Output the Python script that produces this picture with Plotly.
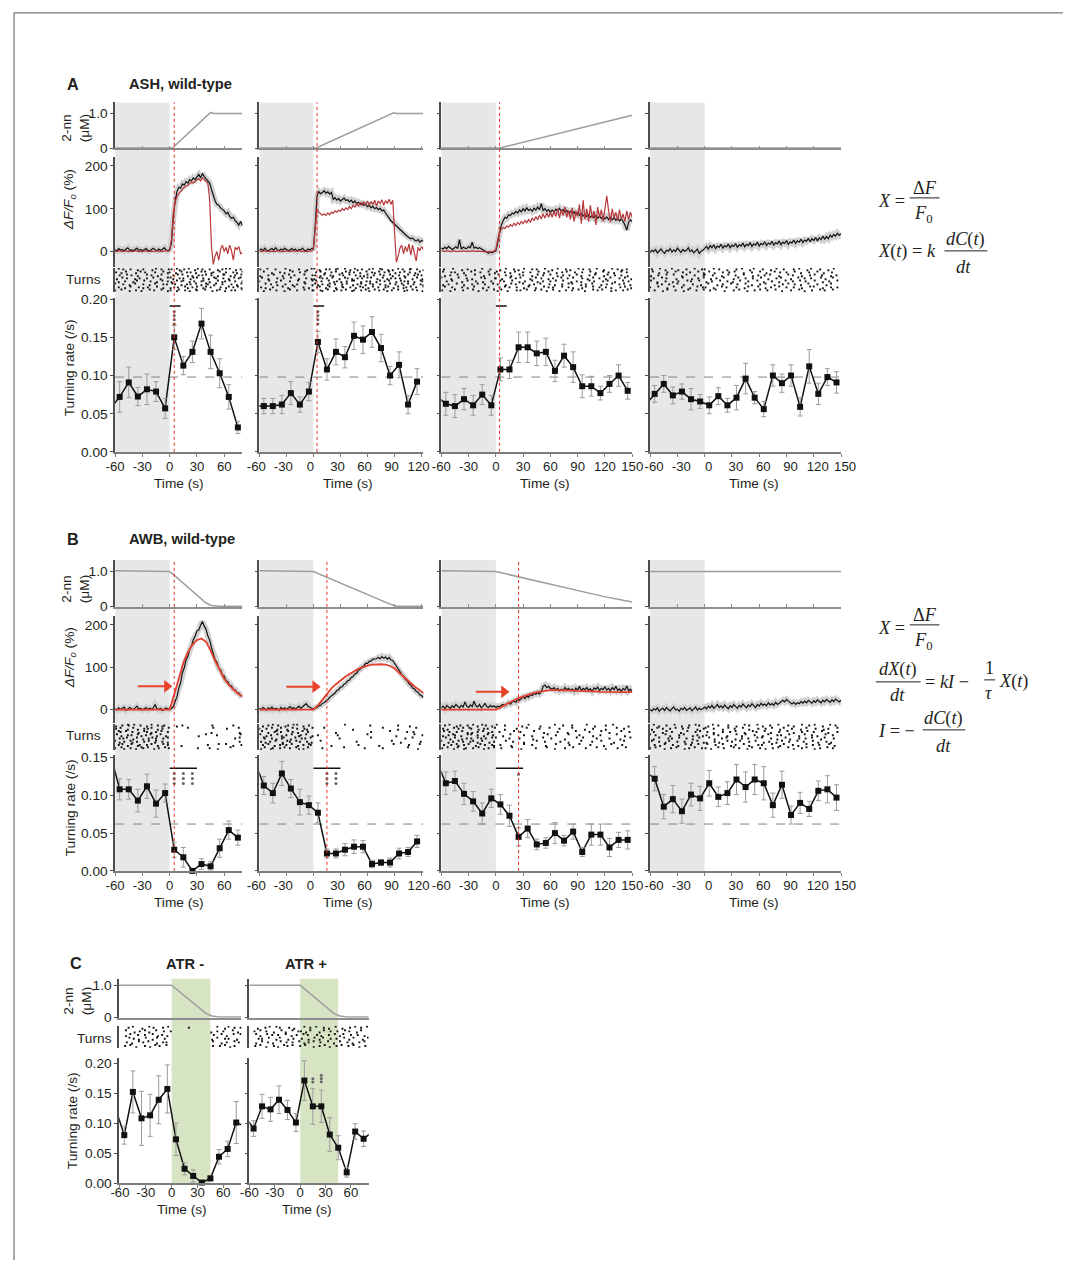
import numpy as np
import plotly.graph_objects as go

W, H = 1078, 1268
# measured mapping between page pixels and the photographed picture
# (picture = A * page + B); layout positions below are given in picture pixels
AX_, BX_ = 0.9795, 10.3
AY_, BY_ = 0.989, 5.1
FS = 1.015  # font compensation for the slight down-scaling

# ------------------------------------------------------------------ data
X_TICKS_AB = [[-60, -30, 0, 30, 60], [-60, -30, 0, 30, 60, 90, 120],
              [-60, -30, 0, 30, 60, 90, 120, 150], [-60, -30, 0, 30, 60, 90, 120, 150]]
X_RANGE_AB = [[-60, 80], [-60, 122], [-60, 150], [-60, 150]]
X_TICKS_C = [[-60, -30, 0, 30, 60], [-60, -30, 0, 30, 60]]
X_RANGE_C = [[-61, 81], [-60, 81]]

# 2-nonanone concentration (uM)
CONC_A_T = [[-60, 3, 45, 48, 80], [-60, 3, 89, 92, 122], [-60, 4, 150], [-60, 150]]
CONC_A_C = [[0, 0, 1.03, 1.0, 1.0], [0, 0, 1.02, 1.0, 1.0], [0, 0, 0.95], [0, 0]]
CONC_B_T = [[-60, -1, 2, 40, 46, 55, 80], [-60, 0, 85, 92, 122], [-60, 0, 118, 150], [-60, 150]]
CONC_B_C = [[1.02, 1.0, 0.96, 0.1, 0.03, 0.01, 0.01], [1.02, 1.0, 0.07, 0.01, 0.01], [1.02, 1.0, 0.29, 0.13], [1.0, 1.0]]
CONC_C_T = [[-61, 0, 40, 47, 55, 81], [-60, 0, 40, 47, 55, 81]]
CONC_C_C = [[1.0, 1.0, 0.12, 0.05, 0.02, 0.02], [1.0, 1.0, 0.12, 0.05, 0.02, 0.02]]

# dF/F0 (%) sampled every 2 s from -60 s (black = mean, red = model)
A1_BLACK = [4, 2, 7, 3, 5, 1, 6, 9, 3, 4, 2, 6, 8, 3, 5, 2, 4, 7, 3, 1, 5, 8, 4, 2, 6, 3, 5, 9, 4, 2,
            5, 20, 80, 118, 140, 150, 148, 158, 155, 163, 160, 168, 165, 172, 168, 175, 180, 172, 182, 175,
            170, 165, 160, 145, 128, 118, 110, 108, 102, 98, 95, 88, 92, 82, 78, 80, 72, 68, 62, 70, 60]
A1_RED = [1, 0, 2, 1, 0, 1, 2, 0, 1, 1, 0, 2, 1, 0, 1, 0, 1, 2, 0, 1, 1, 0, 1, 2, 0, 1, 0, 1, 2, 1,
          2, 30, 90, 115, 128, 135, 140, 145, 150, 152, 155, 158, 162, 160, 165, 168, 170, 165, 172, 168,
          165, 160, 120, 10, -30, -10, 0, -20, 5, 15, 0, 10, -5, 15, 2, -20, 10, 5, 12, -5, -3]
A2_BLACK = [3, 6, 2, 8, 4, 1, 5, 7, 3, 9, 4, 2, 6, 3, 8, 5, 2, 4, 7, 3, 6, 1, 5, 4, 8, 3, 2, 6, 4, 7,
            8, 60, 130, 140, 135, 138, 142, 136, 140, 134, 138, 122, 126, 120, 124, 118, 122, 125, 119, 121,
            116, 120, 114, 118, 112, 115, 110, 113, 108, 110, 105, 108, 102, 106, 100, 103, 98, 101, 95, 97,
            90, 85, 78, 72, 68, 62, 58, 55, 50, 47, 42, 40, 36, 33, 30, 32, 27, 25, 28, 22, 26, 24]
A2_RED = [1, 0, 1, 2, 0, 1, 0, 1, 1, 0, 2, 1, 0, 1, 0, 2, 1, 0, 1, 1, 0, 1, 2, 0, 1, 0, 1, 0, 2, 1,
          5, 60, 100, 92, 88, 85, 88, 84, 90, 86, 92, 89, 95, 92, 97, 94, 100, 96, 102, 98,
          105, 100, 108, 104, 112, 106, 114, 108, 116, 110, 118, 108, 117, 110, 120, 106, 118, 112, 121, 108,
          119, 112, 122, 110, 120, 60, -25, -10, 8, 15, -5, 12, 0, 18, -8, 15, -2, -22, 10, 2, 12, 5]
A3_BLACK = [8, 6, 10, 7, 12, 9, 5, 8, 11, 7, 28, 6, 10, 8, 7, 12, 9, 22, 8, 10, 7, 9, 6, 3, 0, -2, -4, -1, -3, 0,
            2, 20, 45, 62, 72, 80, 78, 86, 84, 90, 88, 94, 90, 97, 93, 100, 95, 102, 96, 99,
            94, 101, 97, 104, 98, 112, 96, 100, 94, 98, 92, 97, 93, 99, 95, 101, 94, 98, 92, 96,
            90, 94, 88, 93, 86, 91, 85, 89, 83, 88, 82, 86, 80, 85, 79, 84, 78, 83, 77, 82,
            76, 81, 75, 80, 74, 79, 73, 78, 72, 76, 70, 62, 50, 68, 74, 70]
A3_RED = [2, 1, 0, 2, 1, 0, 1, 2, 0, 1, 1, 0, 2, 1, 0, 1, 0, 2, 1, 0, 1, 1, 0, 1, 0, -1, 0, -1, 0, 1,
          5, 30, 48, 52, 56, 54, 60, 57, 63, 59, 66, 61, 68, 63, 70, 65, 73, 67, 75, 69,
          78, 72, 82, 74, 85, 76, 88, 78, 90, 80, 92, 80, 95, 82, 100, 78, 98, 84, 105, 80,
          96, 75, 102, 70, 95, 82, 110, 65, 120, 75, 100, 70, 108, 78, 95, 62, 104, 80, 98, 70,
          102, 130, 96, 68, 100, 78, 92, 72, 98, 75, 88, 70, 95, 74, 92, 80]
A4_BLACK = [-2, 3, 0, 5, -3, 2, 6, 0, -4, 3, 1, 7, -1, 4, 0, 8, 2, -2, 5, 1, 3, 9, 0, 4, -3, 2, 6, -5, 1, 3,
            8, 12, 6, 14, 9, 16, 7, 13, 10, 17, 8, 14, 11, 18, 9, 15, 12, 19, 10, 16,
            13, 20, 11, 17, 14, 21, 12, 18, 15, 22, 13, 19, 16, 23, 14, 20, 17, 24, 15, 21,
            18, 25, 16, 22, 19, 26, 17, 23, 20, 27, 19, 25, 22, 29, 21, 27, 24, 31, 23, 30,
            26, 33, 25, 32, 28, 36, 29, 35, 30, 38, 34, 40, 36, 43, 38, 42]
B1_BLACK = [2, -1, 4, 0, 3, 6, -2, 1, 5, 2, 0, 4, 8, 1, 3, -1, 2, 5, 0, 3, 1, 4, 12, 2, 0, 3, -2, 1, 4, 2,
            0, 3, 7, 19, 30, 50, 63, 87, 98, 117, 126, 142, 150, 165, 173, 186, 188, 199, 208, 197,
            190, 174, 164, 146, 134, 118, 112, 98, 94, 82, 79, 68, 66, 57, 56, 48, 47, 40, 39, 33, 34]
B2_BLACK = [3, 0, 5, 2, -1, 4, 1, 6, 0, 3, 2, -2, 5, 1, 4, 0, 3, 7, 2, 5, 1, 4, 8, 3, 6, 10, 14, 8, 5, 3,
            2, 4, 5, 9, 10, 15, 16, 21, 23, 29, 32, 37, 39, 45, 47, 53, 54, 60, 62, 68,
            70, 76, 78, 84, 86, 93, 95, 101, 103, 109, 109, 114, 115, 119, 119, 120, 123, 120, 125, 121,
            124, 119, 123, 117, 116, 109, 105, 96, 91, 83, 79, 71, 68, 61, 58, 51, 49, 43, 41, 35, 33, 28]
B3_BLACK = [4, 8, 2, 10, 6, 3, 9, 5, 12, 7, 4, 10, 6, 18, 8, 5, 11, 7, 20, 9, 6, 12, 4, 8, 15, 7, 5, 10, 6, 9,
            5, 8, 6, 10, 12, 9, 14, 16, 13, 18, 20, 17, 24, 22, 27, 30, 26, 32, 29, 35,
            33, 38, 36, 40, 37, 42, 55, 58, 52, 55, 50, 48, 52, 46, 50, 44, 48, 45, 52, 47,
            50, 45, 49, 43, 51, 46, 55, 44, 50, 47, 52, 46, 49, 43, 51, 48, 53, 45, 50, 47,
            54, 46, 50, 44, 52, 47, 55, 45, 49, 43, 50, 46, 56, 44, 48, 42]
B4_BLACK = [0, -3, 2, -1, 4, -4, 1, 3, -2, 5, 0, -3, 2, 6, -1, 1, -4, 3, 0, 5, -2, 2, 4, -3, 1, 6, -1, 3, 0, 2,
            6, 2, 8, 4, 10, 3, 7, 12, 5, 9, 4, 11, 6, 2, 9, 5, 12, 7, 3, 10,
            6, 13, 8, 4, 11, 7, 14, 9, 5, 12, 8, 15, 10, 13, 9, 16, 11, 14, 10, 17,
            12, 15, 19, 22, 18, 24, 20, 16, 13, 17, 12, 16, 14, 19, 15, 20, 16, 22, 18, 15,
            21, 17, 23, 19, 16, 22, 18, 24, 20, 17, 23, 19, 25, 21, 18, 22]
# B model fits, sampled every 5 s from -60 s
B1_RED = [0] * 13 + [36, 75, 110, 135, 153, 164, 168, 160, 140, 115, 92, 73, 58, 47, 38, 31]
B2_RED = [0] * 13 + [10, 24, 38, 50, 60, 69, 77, 84, 91, 96, 100, 104, 106, 107, 107, 106, 103, 97, 88,
                     78, 68, 58, 50, 42, 35]
B3_RED = [0] * 13 + [5, 11, 17, 22, 27, 31, 35, 38, 41, 43, 45, 46, 46, 46, 46, 45, 45, 44, 44, 43,
                     43, 43, 42, 42, 42, 42, 42, 41, 41, 41]

# turning rate (/s): 10-s bins centred at -65, -55, ...
TR_T_AB = [list(range(-65, 80, 10)), list(range(-65, 120, 10)),
           list(range(-65, 150, 10)), list(range(-65, 150, 10))]
TR_T_C = [list(range(-65, 90, 10)), list(range(-65, 90, 10))]
TR_A = [[0.057, 0.072, 0.091, 0.0725, 0.082, 0.079, 0.057, 0.150, 0.113, 0.131, 0.168, 0.131, 0.103, 0.072, 0.032],
        [0.060, 0.060, 0.060, 0.062, 0.077, 0.062, 0.079, 0.144, 0.108, 0.131, 0.124, 0.152, 0.147, 0.157, 0.136,
         0.100, 0.114, 0.062, 0.092],
        [0.073, 0.063, 0.060, 0.069, 0.061, 0.075, 0.061, 0.108, 0.108, 0.137, 0.137, 0.129, 0.131, 0.106, 0.126,
         0.111, 0.086, 0.086, 0.077, 0.089, 0.100, 0.080],
        [0.062, 0.076, 0.089, 0.074, 0.079, 0.069, 0.066, 0.061, 0.073, 0.061, 0.071, 0.096, 0.071, 0.056, 0.100,
         0.090, 0.100, 0.059, 0.112, 0.076, 0.098, 0.091]]
TR_A_ERR = [[0, 0.02, 0.02, 0.012, 0.02, 0.013, 0.013, 0.016, 0.012, 0.014, 0.02, 0.022, 0.019, 0.016, 0.008],
            [0, 0.01, 0.01, 0.012, 0.015, 0.01, 0.012, 0.014, 0.014, 0.017, 0.014, 0.018, 0.018, 0.02, 0.018,
             0.012, 0.017, 0.012, 0.017],
            [0, 0.015, 0.015, 0.014, 0.013, 0.013, 0.013, 0.015, 0.012, 0.02, 0.02, 0.016, 0.018, 0.014, 0.015,
             0.02, 0.015, 0.013, 0.009, 0.011, 0.014, 0.011],
            [0, 0.011, 0.011, 0.011, 0.01, 0.014, 0.009, 0.011, 0.011, 0.009, 0.016, 0.02, 0.008, 0.01, 0.014,
             0.012, 0.014, 0.012, 0.022, 0.014, 0.011, 0.014]]
TR_B = [[0.154, 0.108, 0.108, 0.093, 0.112, 0.089, 0.103, 0.028, 0.018, 0.000, 0.009, 0.006, 0.030, 0.054, 0.044],
        [0.145, 0.113, 0.103, 0.129, 0.109, 0.091, 0.087, 0.077, 0.023, 0.023, 0.028, 0.032, 0.032, 0.009, 0.011,
         0.011, 0.023, 0.025, 0.039],
        [0.145, 0.116, 0.119, 0.102, 0.092, 0.076, 0.096, 0.088, 0.073, 0.045, 0.056, 0.035, 0.037, 0.050, 0.040,
         0.052, 0.025, 0.048, 0.048, 0.031, 0.041, 0.041],
        [0.132, 0.122, 0.085, 0.095, 0.079, 0.101, 0.096, 0.116, 0.098, 0.103, 0.121, 0.111, 0.121, 0.116, 0.087,
         0.114, 0.074, 0.090, 0.082, 0.106, 0.108, 0.097]]
TR_B_ERR = [[0, 0.014, 0.013, 0.015, 0.016, 0.018, 0.012, 0.01, 0.013, 0.003, 0.007, 0.006, 0.012, 0.012, 0.01],
            [0, 0.012, 0.013, 0.016, 0.012, 0.017, 0.012, 0.013, 0.006, 0.006, 0.008, 0.009, 0.008, 0.005, 0.004,
             0.006, 0.007, 0.006, 0.008],
            [0, 0.015, 0.013, 0.014, 0.013, 0.014, 0.012, 0.013, 0.014, 0.012, 0.012, 0.007, 0.007, 0.014, 0.007,
             0.01, 0.006, 0.014, 0.014, 0.012, 0.01, 0.012],
            [0, 0.016, 0.016, 0.018, 0.016, 0.015, 0.016, 0.017, 0.013, 0.015, 0.02, 0.02, 0.02, 0.022, 0.016,
             0.018, 0.012, 0.014, 0.01, 0.013, 0.018, 0.017]]
TR_C = [[0.124, 0.080, 0.152, 0.108, 0.113, 0.139, 0.157, 0.073, 0.024, 0.012, 0.001, 0.008, 0.044, 0.057, 0.101, 0.095],
        [0.111, 0.091, 0.128, 0.123, 0.139, 0.122, 0.101, 0.171, 0.128, 0.128, 0.081, 0.059, 0.018, 0.086, 0.074, 0.085]]
TR_C_ERR = [[0, 0.015, 0.035, 0.045, 0.035, 0.04, 0.04, 0.027, 0.01, 0.01, 0.002, 0.004, 0.012, 0.013, 0.035, 0],
            [0, 0.013, 0.02, 0.02, 0.023, 0.016, 0.015, 0.033, 0.03, 0.027, 0.028, 0.02, 0.008, 0.013, 0.013, 0]]
BASELINE_A = 0.098
BASELINE_B = 0.062
STIM_A = [5, 4, 4, None]
STIM_B = [5, 15, 25, None]
SIG_BAR_A = [(0, 12, 0.191), (0, 12, 0.191), (0, 12, 0.191), None]
SIG_BAR_B = [(0, 30, 0.136), (0, 30, 0.136), (0, 30, 0.136), None]
SIG_STAR_A = [[(5, 4, 0.184)], [(5, 4, 0.184)], [], []]
SIG_STAR_B = [[(5, 3, 0.129), (15, 3, 0.129), (25, 3, 0.129)], [(15, 3, 0.129), (25, 3, 0.129)], [(25, 1, 0.128)], []]
SIG_STAR_C = [[], [(5, 1, 0.213), (15, 2, 0.174), (25, 3, 0.18)]]
ARROWS_B = [(-35, -3, 55), (-30, 2, 54), (-22, 9, 42)]
LIGHT_C = (0, 45)

# turn rasters: one char per 3-s bin, digit = dot (offset code), '.' = none
TURNS_A_PRE = [
    ["3.7..1.5.2..8.4..6.1", ".4.2.8..5.1.3..7.2..", "6..3.1.7..4.2.8..5.3", ".1.5..2.6.8..3.1.7.4",
     "2.8.4..1.3.5..6.2..7", ".5..7.3.1..8.4.2.6..", "4.1.6..2.7.3..5..8.1", ".7.3.5..1.4..2.6.3.5"],
    [".2..6.4..1.7..3.8..5", "5.1..3..8.2..6..4.1.", "..7.4.2..5..1.3..6.2", "3..8..1.6..4..7.2..8",
     ".6.1..5..3.8..2..4.1", "1..4.7..2..6.3..8..5", ".8..2..5.1..7..3.6..", "4..6..3..8.1..5..2.7"],
    ["4..1.6..3..8.2..5..7", ".7..3..5.2..6..1.4..", "2.5..8..1..4.7..3..6", "..3.6..2.8..5..1..4.",
     "6..2..7..4.1..8.3..5", ".1.4..6..3..7..2.8..", "8..5.3..1..6..4..7.2", ".3..7..2.5..1..6..3."],
    [".5..2.7..4..1.6..3.8", "3..6..1.8..5..2..7.4", "..8.4..3..6.1..5..2.", "7.2..5..1.4..8.3..6.",
     ".4..7.3..2..6..1.5.8", "1..3..6.8..2.7..4..5", ".6.1..4..7..3.5..8.2", "5..8.2..6.1..4..7..3"]]
TURNS_A_POST = [
    ["4.27.5.1.83..6.2.47.1.5.3.8", "15.3.82.4.6.17.3..5.28.4.61", ".63.1.45.8.2.73.16.4..5.2.7",
     "2.8.46.1.3.57.2..8.14.6.3.5", "71.5.3.28.6.4.1.73.5.2.8.46", ".4.68.2.1.5.37.4.2.86.1.3.7",
     "3.1.7.45.2.8.6.13.7.5..42.8", "5.82.4.6.17.3.5..2.48.6.1.3"],
    ["3.51.7.28.4.6.13.5.72.8.4.61.3.7.25.8.4.1", ".47.2.6.1.83.5.2.74.1.6.3.58.2.7.14.6.3.8",
     "82.4.16.3.5.7.2.48.1.63.5.2.7.4.81.6.3.52", ".6.3.8.25.1.4.76.2.5.3.18.4.6.2.75.3.1.84",
     "1.74.3.6.2.85.1.4.3.67.2.8.15.4.3.6.2.7.1", "5.2.6.41.8.3.7.5.12.6.4.8.3.71.5.2.6.48.3",
     ".38.1.5.7.2.64.3.1.8.52.7.4.6.1.38.5.2.7.", "7.1.5.3.46.8.2.71.3.5.6.84.2.1.7.3.56.4.2"],
    ["2.6.1..5.3.7..4.8.2..6.1.5..3.7.2..8.4.6..1.3.5.7.", ".4.7.3.5..1.6.2..8.4.3..7.5.1..2.6.8..3.4.1..5.7.2",
     "5..2.8.4..6.1.3.7..5.2..4.8.6..1.3.7..2.5.8..4.6.1", ".8.3..6.2.5..7.1.4..3.6.8..2.5.1..7.3..4.6.2..8.5.",
     "3.1..7.4.6..2.8.5..1.3..6.4.7..5.2.8..3.1.6..4.7.2", ".6.5.2..8.3..1.7.4..6.2.5..3.8.1..4.7..2.6.5..3.1.",
     "7..4.1.6..3.5..8.2.7..1.4.6..3.5..8.2..7.4.1..6.3.", ".2.8..5.1.7..4.3..6.2.8..5.1..7.3.4..6.2..8.5.1.3."],
    ["..3.6..1..5.8..2..4.7..3..6.1..5..8.2..4..7.3..6.", "4..1..7.3..5..2.6..8..1.4..7..3.5..2..8.6..1..4.5",
     ".7..2.5..8..3..6.1..4.7..2..5.8..3.1..6..4..2.7..", "2.5..8..4.1..6..3..7.2..5..1.8..4..6.3..7..1.5..8",
     "..1.4..6..2.7..3.5..8..1..4.6..2..7.5..3..8.1..6.", "6..3..1.8..4..7..2.5..3.6..1..8.4..2..5.7..3..1.4",
     ".8.2..5..3.6..1..4..7.2..8.5..3..6.1..4..7.2..5..", "3..7.4..1..5.8..2.6..4..1.7..3..5.8..2.6..4..1.7."]]
TURNS_B_PRE = [
    ["3.71.5.2.84.6.1.3.75", ".48.2.6.13.5.7.2.8.4", "62.4.81.3.5.7.26.4.1", ".5.37.2.6.1.48.3.5.7",
     "8.1.5.3.72.4.6.18.2.", ".73.6.4.2.85.1.3.6.4", "4.6.2.8.1.5.37.2.4.8", "1.5.83.6.4.2.7.5.13."],
    ["2.6.13.5.7.4.82.1.6.", ".4.7.2.58.3.6.1.4.73", "5.1.3.6.2.74.8.3.5.1", ".83.5.1.46.2.7.5.3.6",
     "7.2.4.8.1.3.6.24.7.2", ".6.1.57.3.8.4.1.6.3.", "3.5.8.2.6.1.7.3.52.8", ".1.4.6.3.25.8.6.1.4."],
    ["4.7.2.6.13.5.8.2.4.7", ".3.5.81.4.6.2.7.3.51", "6.2.4.7.3.58.1.6.2.4", ".8.1.6.2.4.3.75.4.8.",
     "2.5.73.1.8.6.4.2.6.3", ".6.3.5.8.2.1.4.7.15.", "5.1.8.4.6.73.2.5.3.8", ".4.6.2.3.5.8.1.64.2."],
    ["3.6..1.5.8..2.4.7..3", ".5.2.7..4.1..6.3.8..", "8..4.2.6..3.5..1.7.2", ".1.7..5.3.8..4.2..6.",
     "6.3..8.1..5.7..2.4.1", ".4..2.6.3..1.8..5.7.", "2.8.5..4.7..3.6..1.5", ".7.1..3..6.2..4.8.3."]]
TURNS_B_POST = [
    ["..........4...5..2....7....", "....1.........3...6.8..1..4", ".........................5.",
     "........................38.", "..........2..7...4........6", "...............1.........2.",
     "......8.........6....3...7.", "..2.5..........5.......4..."],
    ["...4.......7.......3.....5.........6..2..", "......2.........5.......1....8.....4...7.",
     "..8.............3............6..1......5.", ".........5...........7............3.8....",
     ".5.......3..........6.........2......7..4", "........1............4......7.....5..3...",
     "....6.........2..........8.....1......6..", "...........8.........3.........4...2....."],
    ["..3...6..1....5...8..2...4..7....3...6..1...5..8..", ".5...2....7..4....1...6....3..8...5....2..7...4...",
     "...8..4...1....6..3....5..2....7...4..8....1...6..", "6....3..5....2...7..4....1...8..6....3...5...2...7",
     "..2..7....4..1.....6..3...8...5....2..4.....7..1..", ".4....8..3....6..2....5...1..7....4...8..2....6..3",
     "...1...5...7....3..8...4....6...2..5....1...7..3..", "7..4.....2..6...1....8..5...3....7..1...4..6....2."],
    ["4.1..6.3..8.5..2.7..4.1..3.6..8.2..5.7..1.4..6.3.", ".6..3.8..2.4..7.1..5.3..8..2.6..4.1..7.5..3..8.2.",
     "2..5.1..7.3..6..4.8..2.5..1.7..3..6.4..8.2..5.1..", ".8.2..4.6..1.5..3..7.6..4.2..8.1..5..3.7..2.6..4.",
     "5..7.3..1..8.2.6..4..1.7..5.3..6..2.8..4.1..7..3.", ".3.1..5..4.7..2..8.3..6.1..4..7.2..5.8..3..6.1..5",
     "7..4..2.8..3..6.1..5..4.8..2.6..3..1.7..5..2.4..8", ".1.6.3..5..2..8.4..7.1..3..6..5.2..8..4.7..1..6.3"]]
TURNS_C_PRE = [
    ["..3.6.1..5.2.8.4..6.", "..5.2..7.3.6..1.5.3.", "...8.4.1..6.2.7..4..",
     "..1.6..3.5..8.2.4.1.", "..7..2.5.8.1..6..3.5", "...4.6..2..7.3..5.8."],
    ["..4.7.2..5.1.8.3.6..", "..2..6.4.1..7.5..3.8", "...5.3.8..2.6..1.4..",
     "..8.1..6.3.4..7.2.5.", "..3.7.5..2..8.1..6.4", "...1..4.6.8.3..5.2.."]]
TURNS_C_POST = [
    ["................3.5.8.2.4.", "................6..1.4..7.3", "...............2.8..5.3..1.",
     "................4..7.1..6.8", "...............1.5..3..8.2.", "......5..........8..2.6.4.5"],
    ["3.6..1.5.8.2..4.7..3.6.1.5.", ".2.4.7..3..6.1.8..5.2..4.7.", "5..1.8.2.6..3.4..7.1.6..2.8",
     ".7.3..5.1..4.8.2.6..3.5..1.", "4.1.6..2.7..3.5..8.4..1.6..", ".8..3.7..4.1..6.2..5.8..3.7"]]

# ------------------------------------------------------------------ helpers
TRACES, SHAPES, ANNS, LAY = [], [], [], {}
AXN = [0]
FONT = dict(family='Liberation Sans, Arial, Helvetica, sans-serif', size=13.5 * FS, color='#231f20')
XTICK_FONT = dict(FONT, size=13.0 * FS)
AXC = '#4d4d4d'
SHADE = '#e6e7e8'
GREEN = '#d7e4c3'
CONC_COL = '#9d9d9d'
TICK_SHIFT_AB = [0, -3, 0, 4]


def px(x):
    return max(0.0, ((x - BX_) / AX_) / W)


def py(y):
    return min(1.0, 1 - ((y - BY_) / AY_) / H)


def add_axes(xpx, xr, ypx, yr, xs, ys):
    AXN[0] += 1
    s = '' if AXN[0] == 1 else str(AXN[0])
    base = dict(showgrid=False, zeroline=False, fixedrange=True)
    LAY['xaxis' + s] = dict(domain=[px(xpx[0]), px(xpx[1])], range=xr, anchor='y' + s, **base, **xs)
    LAY['yaxis' + s] = dict(domain=[py(ypx[1]), py(ypx[0])], range=yr, anchor='x' + s, **base, **ys)
    return 'x' + s, 'y' + s


def y_style(vals, text, show):
    return dict(showline=True, linecolor=AXC, linewidth=1.5, ticks='outside', ticklen=3, tickwidth=1,
                tickcolor=AXC, tickvals=vals, ticktext=text, showticklabels=show, tickfont=FONT)


def y_line():
    return dict(showline=True, linecolor=AXC, linewidth=1.5, ticks='', showticklabels=False)


X_HIDDEN = dict(visible=False)


def x_conc(vals, ticks=True):
    return dict(showline=True, linecolor='#8c8c8c', linewidth=1.5, ticks='inside' if ticks else '', ticklen=3,
                tickcolor='#8c8c8c', tickvals=vals, showticklabels=False)


def x_tr(vals, standoff=-2, shift=0):
    return dict(showline=True, linecolor='#7d7d7d', linewidth=2, ticks='outside', ticklen=3, tickcolor='#7d7d7d',
                tickvals=vals, ticktext=[str(v) for v in vals], tickfont=XTICK_FONT, tickangle=0,
                ticklabelstandoff=standoff, ticklabelshift=shift)


def line(xa, ya, x, y, color, width, dash=None, clip=True):
    TRACES.append(go.Scatter(x=list(x), y=list(y), mode='lines', xaxis=xa, yaxis=ya, hoverinfo='skip',
                             line=dict(color=color, width=width, dash=dash), cliponaxis=clip))


def raster(pre, post, xa, ya):
    xs, ys = [], []
    for rows, t0 in ((pre, -60), (post, 0)):
        for r, s in enumerate(rows):
            for i, ch in enumerate(s):
                if ch.isdigit():
                    d = int(ch)
                    xs.append(t0 + 3 * i + d % 3)
                    ys.append(r + 0.2 + (d // 3) * 0.3)
    TRACES.append(go.Scatter(x=xs, y=ys, mode='markers', xaxis=xa, yaxis=ya, hoverinfo='skip',
                             marker=dict(symbol='square', size=1.9, color='#111', line=dict(width=0))))


def tr_plot(xa, ya, xr, t, v, e):
    line(xa, ya, t, v, '#111', 1.5)
    keep = [i for i, tt in enumerate(t) if xr[0] <= tt <= xr[1]]
    TRACES.append(go.Scatter(x=[t[i] for i in keep], y=[v[i] for i in keep], mode='markers', xaxis=xa, yaxis=ya,
                             marker=dict(symbol='square', size=6, color='#111'), cliponaxis=False, hoverinfo='skip',
                             error_y=dict(type='data', array=[e[i] for i in keep], color='#9b9b9b',
                                          thickness=1, width=2.5)))


def sig(xa, ya, bar, stars, step):
    if bar:
        line(xa, ya, [bar[0], bar[1]], [bar[2], bar[2]], '#111', 1.5, clip=False)
    xs, ys = [], []
    for (x, n, ytop) in stars:
        for k in range(n):
            xs.append(x)
            ys.append(ytop - k * step)
    if xs:
        TRACES.append(go.Scatter(x=xs, y=ys, mode='markers', xaxis=xa, yaxis=ya, cliponaxis=False,
                                 hoverinfo='skip', marker=dict(symbol='circle', size=3, color='#666')))


def arrow(xa, ya, x0, x1, yv):
    TRACES.append(go.Scatter(x=[x0, x1], y=[yv, yv], mode='lines', xaxis=xa, yaxis=ya, hoverinfo='skip',
                             line=dict(color='#e8432a', width=2)))
    TRACES.append(go.Scatter(x=[x1], y=[yv], mode='markers', xaxis=xa, yaxis=ya, hoverinfo='skip',
                             marker=dict(symbol='triangle-right', size=11, color='#e8432a', line=dict(width=0))))


def text(t, x, y, size=13.5, bold=False, xanchor='center', angle=0, family=None):
    f = dict(FONT)
    f['size'] = size * FS
    if family:
        f['family'] = family
    ANNS.append(dict(text='<b>%s</b>' % t if bold else t, x=px(x), y=py(y), xref='paper', yref='paper',
                     showarrow=False, xanchor=xanchor, yanchor='middle', textangle=angle, font=f))


def pline(x0, x1, y0, y1, color, width, dash=None):
    SHAPES.append(dict(type='line', xref='paper', yref='paper', x0=px(x0), x1=px(x1), y0=py(y0), y1=py(y1),
                       line=dict(color=color, width=width, dash=dash)))


# ------------------------------------------------------------------ panels A and B
COLS_AB = [(113, 241), (258, 423), (441, 633), (651, 843)]
ROWS = {
    'A': dict(conc=(101.5, 147.5), conc_r=[-0.01, 1.32], dff=(156, 266), dff_r=[-35.7, 221],
              turns=(267, 291), tr=(297, 451), tr_r=[0, 0.2017],
              tr_ticks=[0, 0.05, 0.1, 0.15, 0.2]),
    'B': dict(conc=(559, 606), conc_r=[-0.01, 1.334], dff=(615, 722), dff_r=[-31.4, 221.3],
              turns=(723, 749), tr=(754, 870), tr_r=[0, 0.1536],
              tr_ticks=[0, 0.05, 0.1, 0.15]),
}
DATA = {
    'A': dict(ct=CONC_A_T, cc=CONC_A_C, black=[A1_BLACK, A2_BLACK, A3_BLACK, A4_BLACK],
              red=[A1_RED, A2_RED, A3_RED, None], red_step=2, red_col='#b8383c', red_w=1.2,
              pre=TURNS_A_PRE, post=TURNS_A_POST, tr=TR_A, tre=TR_A_ERR, base=BASELINE_A, stim=STIM_A,
              bar=SIG_BAR_A, star=SIG_STAR_A, step=0.0055),
    'B': dict(ct=CONC_B_T, cc=CONC_B_C, black=[B1_BLACK, B2_BLACK, B3_BLACK, B4_BLACK],
              red=[B1_RED, B2_RED, B3_RED, None], red_step=5, red_col='#e2412f', red_w=1.8,
              pre=TURNS_B_PRE, post=TURNS_B_POST, tr=TR_B, tre=TR_B_ERR, base=BASELINE_B, stim=STIM_B,
              bar=SIG_BAR_B, star=SIG_STAR_B, step=0.0066),
}

for key in ('A', 'B'):
    R, D = ROWS[key], DATA[key]
    for c in range(4):
        xp, xr, xt = COLS_AB[c], X_RANGE_AB[c], X_TICKS_AB[c]
        first = c == 0
        # concentration
        xa, ya = add_axes(xp, xr, R['conc'], R['conc_r'], x_conc(xt), y_style([0, 1.0], ['0', '1.0'], first))
        line(xa, ya, D['ct'][c], D['cc'][c], CONC_COL, 1.5)
        # pre-stimulus shading over the whole column
        SHAPES.append(dict(type='rect', xref=xa, yref='paper', x0=xr[0], x1=0, y0=py(R['tr'][1]),
                           y1=py(R['conc'][0]), fillcolor=SHADE, line=dict(width=0), layer='below'))
        # dF/F
        xa, ya = add_axes(xp, xr, R['dff'], R['dff_r'], X_HIDDEN, y_style([0, 100, 200], ['0', '100', '200'], first))
        b = D['black'][c]
        tb = [-60 + 2 * i for i in range(len(b))]
        line(xa, ya, tb, b, '#d2d2d2', 6)
        line(xa, ya, tb, b, '#111', 1.2)
        if D['red'][c] is not None:
            r = D['red'][c]
            tr_ = [-60 + D['red_step'] * i for i in range(len(r))]
            line(xa, ya, tr_, r, D['red_col'], D['red_w'])
        if key == 'B' and c < 3:
            arrow(xa, ya, *ARROWS_B[c])
        # turns raster
        xa, ya = add_axes(xp, xr, R['turns'], [0, 8], X_HIDDEN, y_line())
        raster(D['pre'][c], D['post'][c], xa, ya)
        # turning rate
        xa, ya = add_axes(xp, xr, R['tr'], R['tr_r'], x_tr(xt, -2, TICK_SHIFT_AB[c]),
                          y_style(R['tr_ticks'], ['%.2f' % v for v in R['tr_ticks']], first))
        line(xa, ya, xr, [D['base'], D['base']], '#808080', 1, dash='dash')
        tr_plot(xa, ya, xr, TR_T_AB[c], D['tr'][c], D['tre'][c])
        sig(xa, ya, D['bar'][c], D['star'][c], D['step'])
        if D['stim'][c] is not None:
            s = D['stim'][c]
            SHAPES.append(dict(type='line', xref=xa, yref='paper', x0=s, x1=s, y0=py(R['tr'][1]),
                               y1=py(R['conc'][0]), line=dict(color='#ec2d24', width=1, dash='dot')))

# ------------------------------------------------------------------ panel C
COLS_C = [(117, 240), (248, 368)]
RC = dict(conc=(978, 1017), conc_r=[-0.01, 1.194], turns=(1025, 1047), tr=(1057, 1182.3), tr_r=[0, 0.2088])
for c in range(2):
    xp, xr, xt = COLS_C[c], X_RANGE_C[c], X_TICKS_C[c]
    first = c == 0
    xa, ya = add_axes(xp, xr, RC['conc'], RC['conc_r'], x_conc(xt, False), y_style([0, 1.0], ['0', '1.0'], first))
    line(xa, ya, CONC_C_T[c], CONC_C_C[c], CONC_COL, 1.5)
    SHAPES.append(dict(type='rect', xref=xa, yref='paper', x0=LIGHT_C[0], x1=LIGHT_C[1], y0=py(RC['tr'][1]),
                       y1=py(RC['conc'][0]), fillcolor=GREEN, line=dict(width=0), layer='below'))
    xa, ya = add_axes(xp, xr, RC['turns'], [0, 6], X_HIDDEN, y_line())
    raster(TURNS_C_PRE[c], TURNS_C_POST[c], xa, ya)
    ticks = [0, 0.05, 0.1, 0.15, 0.2]
    xa, ya = add_axes(xp, xr, RC['tr'], RC['tr_r'], x_tr(xt, -7),
                      y_style(ticks, ['%.2f' % v for v in ticks], first))
    tr_plot(xa, ya, xr, TR_T_C[c], TR_C[c], TR_C_ERR[c])
    sig(xa, ya, None, SIG_STAR_C[c], 0.0055)

# ------------------------------------------------------------------ text
text('A', 63, 83, 16, True, 'left')
text('ASH, wild-type', 125, 83, 14.5, True, 'left')
text('B', 63, 538, 16, True, 'left')
text('AWB, wild-type', 125, 538, 14.5, True, 'left')
text('C', 66, 962, 16, True, 'left')
text('ATR -', 183, 963, 14.5, True)
text('ATR +', 305, 963, 14.5, True)

for yc, yd, yt, yr in ((127, 199, 279, 367), (588, 657, 735, 807)):
    text('2-nn<br>(μM)', 74, yc, 13.5, angle=-90)
    text('<i>ΔF/F<sub>o</sub></i> (%)', 68, yd, 13.5, angle=-90)
    text('Turns', 101, yt, 13.5, xanchor='right')
    text('Turning rate (/s)', 68, yr, 13.5, angle=-90)
text('2-nn<br>(μM)', 76, 1000, 13.5, angle=-90)
text('Turns', 112, 1038, 13.5, xanchor='right')
text('Turning rate (/s)', 70, 1120, 13.5, angle=-90)
for xc in (177, 347, 545, 755):
    text('Time (s)', xc, 483, 13.5)
    text('Time (s)', xc, 902, 13.5)
for xc in (180, 306):
    text('Time (s)', xc, 1209, 13.5)

# equations
SERIF = 'Liberation Serif, Times New Roman, serif'
EQ = 18
FR = '#231f20'
text('<i>X</i> =', 878, 200, EQ, xanchor='left', family=SERIF)
text('Δ<i>F</i>', 927, 187, EQ, family=SERIF)
pline(912, 942, 197, 197, FR, 1)
text('<i>F</i><sub>0</sub>', 926, 214, EQ, family=SERIF)
text('<i>X</i>(<i>t</i>) = <i>k</i>', 878, 251, EQ, xanchor='left', family=SERIF)
text('<i>dC</i>(<i>t</i>)', 968, 239, EQ, family=SERIF)
pline(947, 990, 250, 250, FR, 1)
text('<i>dt</i>', 966, 266, EQ, family=SERIF)

text('<i>X</i> =', 878, 627, EQ, xanchor='left', family=SERIF)
text('Δ<i>F</i>', 927, 614, EQ, family=SERIF)
pline(912, 942, 624, 624, FR, 1)
text('<i>F</i><sub>0</sub>', 926, 641, EQ, family=SERIF)
text('<i>dX</i>(<i>t</i>)', 900, 669, EQ, family=SERIF)
pline(878, 923, 681, 681, FR, 1)
text('<i>dt</i>', 900, 694, EQ, family=SERIF)
text('= <i>kI</i> −', 925, 681, EQ, xanchor='left', family=SERIF)
text('1', 992, 667, EQ, family=SERIF)
pline(987, 998, 679, 679, FR, 1)
text('<i>τ</i>', 992, 692, EQ, family=SERIF)
text('<i>X</i>(<i>t</i>)', 1000, 681, EQ, xanchor='left', family=SERIF)
text('<i>I</i> = −', 878, 730, EQ, xanchor='left', family=SERIF)
text('<i>dC</i>(<i>t</i>)', 946, 718, EQ, family=SERIF)
pline(925, 968, 729, 729, FR, 1)
text('<i>dt</i>', 946, 745, EQ, family=SERIF)

# page frame
SHAPES.append(dict(type='line', xref='paper', yref='paper', x0=0.001, x1=1, y0=py(12), y1=py(12),
                   line=dict(color='#555', width=1)))
SHAPES.append(dict(type='line', xref='paper', yref='paper', x0=0.001, x1=0.001, y0=0, y1=py(12),
                   line=dict(color='#555', width=1)))

fig = go.Figure(data=TRACES)
fig.update_layout(width=W, height=H, margin=dict(l=0, r=0, t=0, b=0), showlegend=False,
                  paper_bgcolor='white', plot_bgcolor='rgba(0,0,0,0)', font=FONT,
                  shapes=SHAPES, annotations=ANNS, **LAY)
fig.write_html("out.html", config={'displayModeBar': False},
               post_script="document.body.style.margin='0';")
